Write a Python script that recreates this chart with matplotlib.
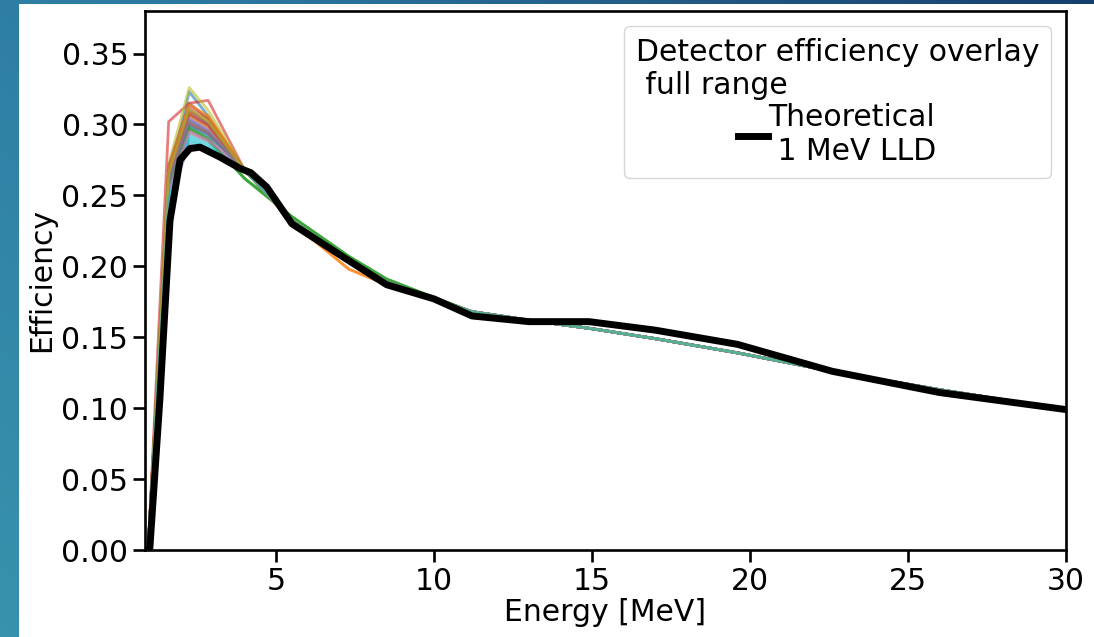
import matplotlib
matplotlib.use("Agg")
import matplotlib.pyplot as plt
import numpy as np
from matplotlib.colors import LinearSegmentedColormap
from matplotlib.patches import Rectangle

# theoretical efficiency, 1 MeV LLD
theory_energy = [0.85, 1.0, 1.32, 1.64, 1.96, 2.27, 2.59, 3.22, 3.86, 4.2, 4.7, 5.5,
                 7.3, 8.5, 10.0, 11.2, 13.0, 14.9, 17.0, 19.6, 22.6, 26.0, 30.0]
theory_eff = [0.0, 0.0, 0.106, 0.232, 0.275, 0.283, 0.284, 0.277, 0.269, 0.266, 0.256, 0.230,
              0.204, 0.187, 0.177, 0.165, 0.161, 0.161, 0.155, 0.145, 0.126, 0.111, 0.099]

# measured overlay curves: shared energy grid
meas_energy = [0.85, 0.95, 1.6, 2.25, 2.85, 4.0, 5.5, 7.3, 8.5, 10.0, 11.2,
               13.0, 15.0, 17.0, 19.6, 22.6, 26.0, 30.0]
# per curve values at 1.6, 2.25 and 2.85 MeV
meas_rise = [0.262, 0.268, 0.255, 0.302, 0.245, 0.270, 0.266, 0.258, 0.272, 0.250,
             0.260, 0.264, 0.257, 0.259, 0.263, 0.271, 0.262, 0.254, 0.265, 0.252,
             0.258, 0.269, 0.256, 0.263, 0.261, 0.267, 0.253, 0.260, 0.266, 0.248]
meas_peak = [0.323, 0.312, 0.297, 0.315, 0.286, 0.308, 0.313, 0.300, 0.326, 0.290,
             0.303, 0.309, 0.296, 0.301, 0.311, 0.315, 0.305, 0.294, 0.306, 0.292,
             0.299, 0.314, 0.298, 0.307, 0.304, 0.310, 0.295, 0.302, 0.311, 0.288]
meas_shoulder = [0.306, 0.305, 0.290, 0.317, 0.281, 0.300, 0.303, 0.293, 0.310, 0.284,
                 0.295, 0.304, 0.289, 0.294, 0.301, 0.304, 0.297, 0.288, 0.298, 0.286,
                 0.292, 0.306, 0.290, 0.299, 0.296, 0.301, 0.289, 0.294, 0.302, 0.283]
# tails from 4 MeV upward
tail_main = [0.268, 0.232, 0.204, 0.189, 0.177, 0.168, 0.162, 0.156, 0.149, 0.139, 0.126, 0.113, 0.099]
tail_green = [0.262, 0.235, 0.207, 0.191, 0.178, 0.168, 0.162, 0.156, 0.149, 0.139, 0.126, 0.113, 0.099]
tail_orange = [0.268, 0.231, 0.198, 0.187, 0.177, 0.168, 0.162, 0.156, 0.149, 0.139, 0.126, 0.113, 0.099]
tail_pick = ["main", "orange", "green", "main", "main", "main", "main", "main", "main", "main",
             "main", "orange", "green", "main", "main", "main", "main", "main", "main", "main",
             "main", "main", "green", "main", "main", "main", "main", "main", "main", "main"]
tails = {"main": tail_main, "green": tail_green, "orange": tail_orange}

fig = plt.figure(figsize=(10.94, 6.37), dpi=100)

# slide background behind the white plot panel
bg = fig.add_axes([0, 0, 1, 1], zorder=-10)
bg_cmap = LinearSegmentedColormap.from_list("slide", ["#3792ad", "#2b76a0", "#18406c"])
gx, gy = np.meshgrid(np.linspace(0, 1, 200), np.linspace(0, 1, 200))
bg.imshow(0.35 * gy + 0.65 * gx, cmap=bg_cmap, aspect="auto", extent=[0, 1, 0, 1],
          origin="lower", vmin=0, vmax=1)
bg.add_patch(Rectangle((19 / 1094, 0), 1, 1 - 4 / 637, facecolor="white", edgecolor="none"))
bg.set_xlim(0, 1)
bg.set_ylim(0, 1)
bg.axis("off")

ax = fig.add_axes([145 / 1094, 87 / 637, 921 / 1094, 539 / 637])
ax.set_facecolor("none")

colours = plt.rcParams["axes.prop_cycle"].by_key()["color"]
for i in range(len(meas_peak)):
    eff = [0.0, 0.0, meas_rise[i], meas_peak[i], meas_shoulder[i]] + tails[tail_pick[i]]
    ax.plot(meas_energy, eff, color=colours[i % len(colours)], lw=2, alpha=0.6)

ax.plot(theory_energy, theory_eff, color="black", lw=5, label="Theoretical\n 1 MeV LLD", zorder=5)

ax.set_xlim(0.85, 30)
ax.set_ylim(0, 0.38)
ax.set_xticks([5, 10, 15, 20, 25, 30])
ax.set_yticks(np.arange(0, 0.36, 0.05))
ax.set_xlabel("Energy [MeV]", fontsize=21.5, labelpad=2)
ax.set_ylabel("Efficiency", fontsize=21.5)
ax.tick_params(labelsize=21.5, length=8.5, width=1.9)
for s in ax.spines.values():
    s.set_linewidth(1.9)

leg = ax.legend(title="Detector efficiency overlay\n full range", fontsize=21.5,
                title_fontsize=21.5, loc="upper right", handlelength=1.0,
                handletextpad=0.0, labelspacing=0.1)
leg.get_title().set_multialignment("left")

fig.savefig("out.png", dpi=100)
